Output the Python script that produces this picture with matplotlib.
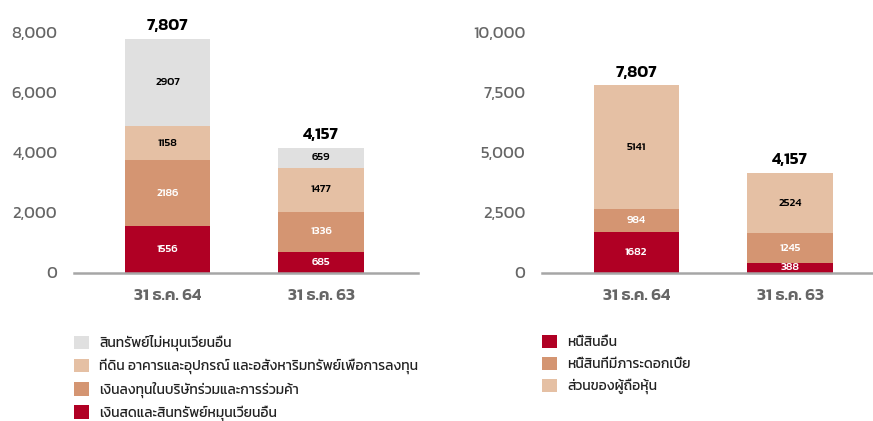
from __future__ import annotations

import numpy as np
import matplotlib
matplotlib.use("Agg")
import matplotlib.pyplot as plt

RED = "#b00024"
TAN = "#d49572"
PEACH = "#e5c0a4"
GRAY = "#e0e0e0"
TICK_COLOR = "#666666"

categories = ["31 ธ.ค. 64", "31 ธ.ค. 63"]

# left: assets (stacked bottom -> top)
asset_labels = [
    "เงินสดและสินทรัพย์หมุนเวียนอื่น",
    "เงินลงทุนในบริษัทร่วมและการร่วมค้า",
    "ที่ดิน อาคารและอุปกรณ์ และอสังหาริมทรัพย์เพื่อการลงทุน",
    "สินทรัพย์ไม่หมุนเวียนอื่น",
]
asset_cash = [1556, 685]
asset_invest = [2186, 1336]
asset_ppe = [1158, 1477]
asset_other = [2907, 659]
asset_totals = [7807, 4157]

# right: liabilities and equity (stacked bottom -> top)
liab_labels = [
    "หนี้สินอื่น",
    "หนี้สินที่มีภาระดอกเบี้ย",
    "ส่วนของผู้ถือหุ้น",
]
liab_other = [1682, 388]
liab_debt = [984, 1245]
liab_equity = [5141, 2524]
liab_totals = [7807, 4157]

left_ticks = [0, 2000, 4000, 6000, 8000]
right_ticks = [0, 2500, 5000, 7500, 10000]

plt.rcParams["font.family"] = ["Kanit", "DejaVu Sans"]


def stacked(ax, series, colors, text_colors, totals, ticks):
    x = np.arange(len(categories))
    bottom = np.zeros(len(categories))
    bars = []
    for vals, col, tc in zip(series, colors, text_colors):
        b = ax.bar(x, vals, width=0.554, bottom=bottom, color=col, linewidth=0)
        bars.append(b)
        for xi, v, b0 in zip(x, vals, bottom):
            ax.text(xi, b0 + v / 2, str(v), ha="center", va="center",
                    fontsize=8, fontweight="medium", color=tc)
        bottom = bottom + np.array(vals)
    for xi, top, t in zip(x, bottom, totals):
        ax.annotate(f"{t:,}", (xi, top), xytext=(0, 4), textcoords="offset points",
                    ha="center", va="bottom", fontsize=12, fontweight="semibold",
                    color="black", annotation_clip=False)
    ax.set_ylim(0, ticks[-1])
    ax.set_yticks(ticks)
    ax.set_yticklabels([f"{t:,}" for t in ticks])
    ax.set_xticks(x)
    ax.set_xticklabels(categories, fontweight="semibold")
    for s in ["top", "right", "left"]:
        ax.spines[s].set_visible(False)
    ax.spines["bottom"].set_color("#a6a6a6")
    ax.spines["bottom"].set_linewidth(1.8)
    ax.tick_params(axis="y", length=0, pad=12, labelsize=12, labelcolor=TICK_COLOR)
    ax.tick_params(axis="x", length=0, pad=12, labelsize=12.2, labelcolor=TICK_COLOR)
    return bars


fig = plt.figure(figsize=(8.73, 4.21), dpi=100)

ax_l = fig.add_axes([0.0848, 0.3527, 0.394, 0.569])
bars_l = stacked(ax_l, [asset_cash, asset_invest, asset_ppe, asset_other],
                 [RED, TAN, PEACH, GRAY], ["white", "white", "black", "black"],
                 asset_totals, left_ticks)
ax_l.set_xlim(-0.609, 1.632)

ax_r = fig.add_axes([0.6208, 0.3527, 0.379, 0.569])
bars_r = stacked(ax_r, [liab_other, liab_debt, liab_equity],
                 [RED, TAN, PEACH], ["white", "white", "black"],
                 liab_totals, right_ticks)
ax_r.set_xlim(-0.612, 1.537)

leg_kw = dict(frameon=False, fontsize=10, handlelength=1.1, handleheight=1.1,
              handletextpad=0.7, labelspacing=0.53, borderpad=0, borderaxespad=0,
              loc="upper left", labelcolor="#222222")
fig.legend(bars_l[::-1], asset_labels[::-1],
           bbox_to_anchor=(74 / 873, (421 - 335) / 421), **leg_kw)
fig.legend(bars_r, liab_labels,
           bbox_to_anchor=(542 / 873, (421 - 335) / 421), **leg_kw)

fig.savefig("out.png", dpi=100)
